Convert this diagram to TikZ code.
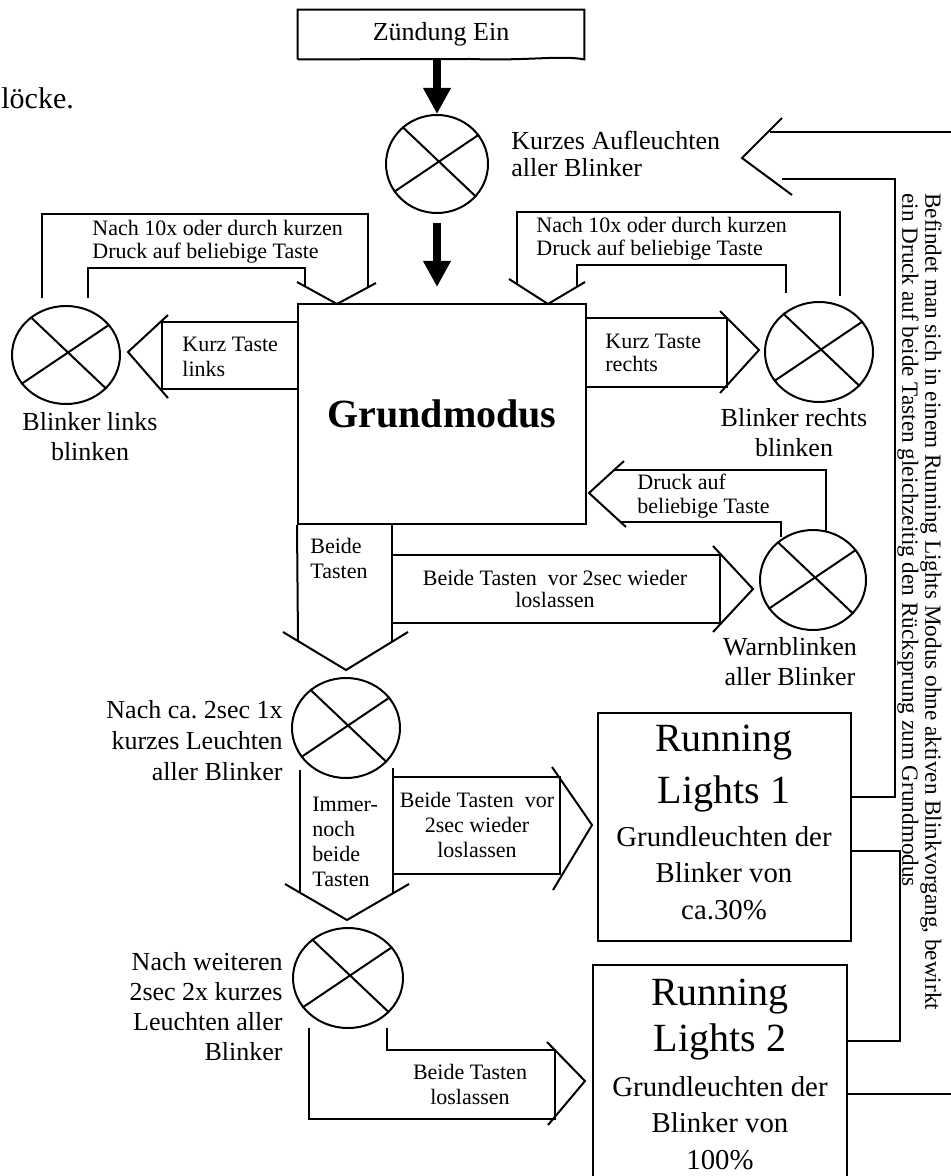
\documentclass[tikz,border=0pt]{standalone}
\usepackage{fontspec}
\setmainfont{Liberation Serif}
\usetikzlibrary{arrows.meta, positioning, shapes.geometric, calc}
\tikzset{
  lamp/.style={draw, ellipse, line width=1pt, inner sep=0pt},
  modebox/.style={draw, rectangle, line width=1pt, inner sep=0pt},
  txt/.style={inner sep=0pt, align=center, font=\fontsize{13}{15}\selectfont},
  ltxt/.style={inner sep=0pt, align=left, font=\fontsize{11}{12.5}\selectfont},
  headtxt/.style={inner sep=0pt, align=center, font=\fontsize{20}{26}\selectfont},
  bodytxt/.style={inner sep=0pt, align=center, font=\fontsize{14.4}{18.25}\selectfont},
  outline/.style={line width=1pt, line join=miter},
  link/.style={line width=1pt},
  fat/.style={-{Triangle[length=13pt, width=13pt]}, line width=4pt},
}

\begin{document}
\begin{tikzpicture}[x=0.5pt, y=-0.5pt]
  \useasboundingbox (0,0) rectangle (951,1176);
  \clip (0,0) rectangle (951,1176);

  % boxes and lamps
  \node[inner sep=0pt, anchor=west, font=\fontsize{15}{17}\selectfont] (blk) at (1,98) {löcke.};
  \node[minimum width=143pt, minimum height=24.5pt, inner sep=0pt, font=\fontsize{13}{15}\selectfont] (zund) at (441,34.5) {Zündung Ein};
  \node[modebox, minimum width=144pt, minimum height=110pt, font=\bfseries\fontsize{20}{24}\selectfont] (grund) at (442,414) {Grundmodus};
  \node[modebox, minimum width=126.5pt, minimum height=114pt] (rl1) at (724.5,827) {};
  \node[modebox, minimum width=127pt, minimum height=112.5pt] (rl2) at (720,1077.5) {};
  \node[lamp, minimum width=51pt, minimum height=49pt] (start) at (437,164) {};
  \node[lamp, minimum width=54pt, minimum height=49pt] (lampl) at (66,355) {};
  \node[lamp, minimum width=54pt, minimum height=50pt] (lampr) at (819,352) {};
  \node[lamp, minimum width=53pt, minimum height=50pt] (warn) at (813,580) {};
  \node[lamp, minimum width=54pt, minimum height=50pt] (one) at (346,728) {};
  \node[lamp, minimum width=55pt, minimum height=50pt] (two) at (348,978) {};
  \foreach \n in {start, lampl, lampr, warn, one, two}
    \draw[link] (\n.133) -- (\n.-40) (\n.213) -- (\n.35);

  % document outline of the start box
  \draw[link] (zund.south west) -- (zund.north west) -- (zund.north east) -- (zund.south east)
    .. controls (560,55) and (530,61) .. (470,59) -- (zund.south west);

  % texts
  \node[txt, anchor=west, align=left, font=\fontsize{13}{13.5}\selectfont] (startlbl) at (511,153.5) {Kurzes Aufleuchten\\aller Blinker};
  \node[txt] (lbll) at (90,437) {Blinker links\\blinken};
  \node[txt] (lblr) at (794,433) {Blinker rechts\\blinken};
  \node[txt] (lblw) at (790,662) {Warnblinken\\aller Blinker};
  \node[txt, anchor=east, align=right, font=\fontsize{13}{15.5}\selectfont] (lblone) at (283,741) {Nach ca.\ 2sec 1x\\kurzes Leuchten\\aller Blinker};
  \node[txt, anchor=east, align=right] (lbltwo) at (283,1007) {Nach weiteren\\2sec 2x kurzes\\Leuchten aller\\Blinker};
  \node[headtxt] (rl1head) at (724,769) {Running\\Lights 1};
  \node[bodytxt] (rl1body) at (724,873) {Grundleuchten der\\Blinker von\\ca.30\%};
  \node[headtxt, font=\fontsize{20}{23}\selectfont] (rl2head) at (720,1020) {Running\\Lights 2};
  \node[bodytxt] (rl2body) at (720,1123) {Grundleuchten der\\Blinker von\\100\%};

  \node[ltxt, anchor=west, font=\fontsize{11}{11.5}\selectfont] (loopl) at (92,241.5) {Nach 10x oder durch kurzen\\Druck auf beliebige Taste};
  \node[ltxt, anchor=west, font=\fontsize{11}{11.5}\selectfont] (loopr) at (536,238.5) {Nach 10x oder durch kurzen\\Druck auf beliebige Taste};
  \node[ltxt, anchor=west] (kurzl) at (182,356.5) {Kurz Taste\\links};
  \node[ltxt, anchor=west, font=\fontsize{11}{11.5}\selectfont] (kurzr) at (605,353) {Kurz Taste\\rechts};
  \node[ltxt, anchor=west, font=\fontsize{11}{12}\selectfont] (druck) at (637,496) {Druck auf\\beliebige Taste};
  \node[ltxt, anchor=west] (beide) at (310,558.5) {Beide\\Tasten};
  \node[ltxt, align=center, font=\fontsize{11}{11}\selectfont] (vor1) at (555,589) {Beide Tasten~ vor 2sec wieder\\loslassen};
  \node[ltxt, anchor=west] (immer) at (312,842) {Immer-\\noch\\beide\\Tasten};
  \node[ltxt, align=center] (vor2) at (477,825) {Beide Tasten~ vor\\2sec wieder\\loslassen};
  \node[ltxt, align=center] (los) at (470,1084.5) {Beide Tasten\\loslassen};
  \node[ltxt, rotate=-90, anchor=north west, font=\fontsize{11.6}{11.5}\selectfont] (back) at (942,193)
    {Befindet man sich in einem Running Lights Modus ohne aktiven Blinkvorgang, bewirkt\\ein Druck auf beide Tasten gleichzeitig den Rücksprung zum Grundmodus};

  % fat arrows
  \draw[fat] (start.north |- zund.south) -- (start.north);
  \draw[fat, shorten <=4.5pt, shorten >=8pt] (start.south) -- (start.south |- grund.north);

  % block arrows
  \draw[outline] (42,298) -- (42,214) -- (368,214) -- (368,287);
  \draw[outline] (88,298) -- (88,268) -- (305,268) -- (305,286);
  \draw[outline] (297,282) -- (337,304) -- (376,283);

  \draw[outline] (517,284) -- (517,212) -- (840,212) -- (840,296);
  \draw[outline] (577,287) -- (577,265) -- (786,265) -- (786,293);
  \draw[outline] (509,279) -- (548,304) -- (585,282);

  \draw[outline] (grund.west |- 0,322) -- (162,322) -- (162,389) -- (grund.west |- 0,389);
  \draw[outline] (168,315) -- (128,352) -- (168,398);

  \draw[outline] (grund.east |- 0,318) -- (727,318) -- (727,387) -- (grund.east |- 0,387);
  \draw[outline] (720,311) -- (759,350) -- (720,393);

  \draw[outline] (624,461) -- (589,493) -- (626,527);
  \draw[outline] (614,470) -- (826,470) -- (826,532);
  \draw[outline] (621,522) -- (781,522) -- (781,537);

  \draw[outline] (grund.south west) -- (298,641);
  \draw[outline] (392,524) -- (392,642);
  \draw[outline] (283,632) -- (346,670) -- (408,632);

  \draw[outline] (392,555) -- (720,555) -- (720,623) -- (392,623);
  \draw[outline] (713,546) -- (753,589) -- (713,632);

  \draw[outline] (300,770) -- (300,893);
  \draw[outline] (393,768) -- (393,893);
  \draw[outline] (285,884) -- (347,920) -- (409,884);

  \draw[outline] (393,777) -- (560,777) -- (560,874) -- (393,874);
  \draw[outline] (552,767) -- (592,825) -- (553,890);

  \draw[outline] (309,1028) -- (309,1119) -- (555,1119) -- (555,1050) -- (387,1050) -- (387,1028);
  \draw[outline] (547,1042) -- (585,1081) -- (548,1125);

  % return path
  \coordinate (bus1) at (895,797);
  \coordinate (bus2) at (900,851);
  \draw[outline] (782,118) -- (742,158) -- (792,195);
  \draw[link] (770,132) -- (951,132);
  \draw[link] (rl1.east |- bus1) -- (bus1) -- (bus1 |- 0,179) -- (782,179);
  \draw[link] (rl1.east |- bus2) -- (bus2) -- (bus2 |- 0,1041) -- (rl2.east |- 0,1041);
  \draw[link] (rl2.east |- 0,1094) -- (951,1094);
\end{tikzpicture}
\end{document}
